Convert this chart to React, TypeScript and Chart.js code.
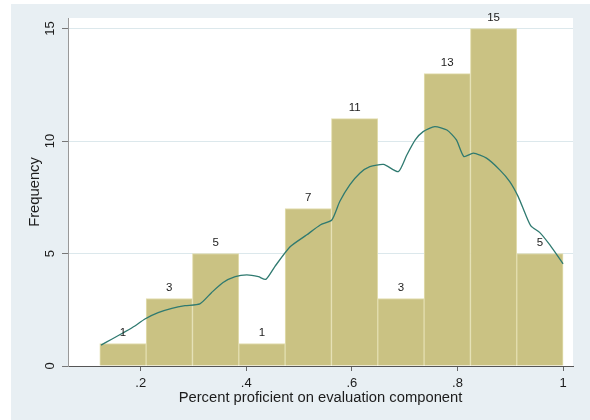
import React, { useEffect, useRef } from "react";
import { Chart, registerables } from "chart.js";

Chart.register(...registerables);

// Histogram bins (lower/upper edges) and frequency per bin
const binEdges = [0.1225, 0.2103, 0.298, 0.3858, 0.4735, 0.5613, 0.649, 0.7368, 0.8245, 0.9123, 1.0];
const counts = [1, 3, 5, 1, 7, 11, 3, 13, 15, 5];

// Smoothed density curve, scaled to frequency units
const densityX = [
  0.1248, 0.145, 0.167, 0.189, 0.208, 0.233, 0.259, 0.284, 0.312, 0.334, 0.356, 0.379,
  0.401, 0.423, 0.437, 0.454, 0.483, 0.514, 0.54, 0.562, 0.577, 0.596, 0.615, 0.634,
  0.66, 0.688, 0.704, 0.72, 0.735, 0.757, 0.78, 0.798, 0.812, 0.83, 0.855, 0.88,
  0.899, 0.915, 0.928, 0.939, 0.956, 0.975, 1.0,
];
const densityY = [
  0.93, 1.19, 1.48, 1.78, 2.09, 2.37, 2.56, 2.68, 2.76, 3.26, 3.71, 3.97,
  4.05, 3.97, 3.85, 4.42, 5.3, 5.82, 6.27, 6.49, 7.31, 8.05, 8.57, 8.86,
  8.96, 8.64, 9.38, 10.05, 10.42, 10.64, 10.49, 10.05, 9.31, 9.46, 9.24, 8.72,
  8.2, 7.53, 6.79, 6.23, 5.93, 5.38, 4.54,
];

const xTicks = [0.2, 0.4, 0.6, 0.8, 1];
const xTickLabels = [".2", ".4", ".6", ".8", "1"];
const yTicks = [0, 5, 10, 15];
const yTickLabels = ["0", "5", "10", "15"];

const xTitle = "Percent proficient on evaluation component";
const yTitle = "Frequency";

const FONT = "'Liberation Sans', Arial, Helvetica, sans-serif";
const TEXT = "#1c1c1c";
const PANEL = "#e8eff3";
const GRID = "#dce8ec";
const BAR_FILL = "#cac283";
const BAR_EDGE = "#e3deb0";
const CURVE = "#2f7a70";

const backdrop = {
  id: "backdrop",
  beforeDraw(chart: any) {
    const { ctx, chartArea, width, height } = chart;
    ctx.save();
    ctx.fillStyle = "#ffffff";
    ctx.fillRect(0, 0, width, height);
    ctx.fillStyle = PANEL;
    ctx.fillRect(11, 4, width - 11, height - 4);
    ctx.fillStyle = "#ffffff";
    ctx.fillRect(chartArea.left, chartArea.top, chartArea.right - chartArea.left, chartArea.bottom - chartArea.top);
    ctx.restore();
  },
};

const yTickText = {
  id: "yTickText",
  afterDraw(chart: any) {
    const { ctx } = chart;
    const scale = chart.scales.y;
    ctx.save();
    ctx.font = `13px ${FONT}`;
    ctx.fillStyle = TEXT;
    ctx.textAlign = "center";
    ctx.textBaseline = "middle";
    yTicks.forEach((v, i) => {
      const py = scale.getPixelForValue(v);
      ctx.save();
      ctx.translate(50, py);
      ctx.rotate(-Math.PI / 2);
      ctx.fillText(yTickLabels[i], 0, 0);
      ctx.restore();
    });
    ctx.restore();
  },
};

const barCounts = {
  id: "barCounts",
  afterDatasetsDraw(chart: any) {
    const { ctx } = chart;
    const meta = chart.getDatasetMeta(0);
    ctx.save();
    ctx.font = `11.5px ${FONT}`;
    ctx.fillStyle = TEXT;
    ctx.textAlign = "center";
    ctx.textBaseline = "middle";
    meta.data.forEach((bar: any, i: number) => {
      ctx.fillText(String(counts[i]), bar.x, bar.y - 10.5);
    });
    ctx.restore();
  },
};

export default function App() {
  const canvasRef = useRef<HTMLCanvasElement | null>(null);

  useEffect(() => {
    if (!canvasRef.current) return;
    const centers = counts.map((_, i) => (binEdges[i] + binEdges[i + 1]) / 2);

    const chart = new Chart(canvasRef.current, {
      type: "bar",
      data: {
        datasets: [
          {
            type: "bar",
            data: counts.map((c, i) => ({ x: centers[i], y: c })),
            backgroundColor: BAR_FILL,
            borderColor: BAR_EDGE,
            borderWidth: 1,
            categoryPercentage: 1,
            barPercentage: 1,
            order: 1,
          } as any,
          {
            type: "line",
            data: densityX.map((x, i) => ({ x, y: densityY[i] })),
            borderColor: CURVE,
            borderWidth: 1.3,
            pointRadius: 0,
            tension: 0.2,
            fill: false,
            order: 0,
          } as any,
        ],
      },
      options: {
        responsive: false,
        animation: false,
        devicePixelRatio: 1,
        layout: { padding: { left: 0, right: 17, top: 18, bottom: 0 } },
        plugins: {
          legend: { display: false },
          tooltip: { enabled: false },
        },
        scales: {
          x: {
            type: "linear",
            min: 0.0623,
            max: 1.0188,
            offset: false,
            grid: {
              offset: false,
              drawOnChartArea: false,
              drawTicks: true,
              tickLength: 5,
              tickColor: "#666666",
            },
            border: { display: true, color: "#555555", width: 1 },
            afterBuildTicks: (s: any) => {
              s.ticks = xTicks.map((v) => ({ value: v }));
            },
            ticks: {
              autoSkip: false,
              maxRotation: 0,
              minRotation: 0,
              padding: 5,
              color: TEXT,
              font: { family: FONT, size: 13 },
              callback: (_v: any, i: number) => xTickLabels[i],
            },
            title: {
              display: true,
              text: xTitle,
              color: TEXT,
              font: { family: FONT, size: 14.75 },
              padding: { top: 0, bottom: 13.5 },
            },
            afterFit: (s: any) => {
              s.height = 54;
            },
          } as any,
          y: {
            type: "linear",
            min: 0,
            max: 15.47,
            afterBuildTicks: (s: any) => {
              s.ticks = yTicks.map((v) => ({ value: v }));
            },
            ticks: { display: false },
            grid: {
              color: (c: any) => (c.tick && c.tick.value === 0 ? "rgba(0,0,0,0)" : GRID),
              lineWidth: 1,
              drawTicks: true,
              tickLength: 6,
              tickColor: "#777777",
            },
            border: { display: true, color: "#999999", width: 1 },
            title: {
              display: true,
              text: yTitle,
              color: TEXT,
              font: { family: FONT, size: 14.75 },
              padding: { top: 26, bottom: 0 },
            },
            afterFit: (s: any) => {
              s.width = 68;
            },
          } as any,
        },
      },
      plugins: [backdrop, yTickText, barCounts],
    });

    return () => chart.destroy();
  }, []);

  return (
    <div style={{ position: "fixed", left: 0, top: 0, width: 590, height: 420 }}>
      <canvas ref={canvasRef} width={590} height={420} style={{ display: "block" }} />
    </div>
  );
}
